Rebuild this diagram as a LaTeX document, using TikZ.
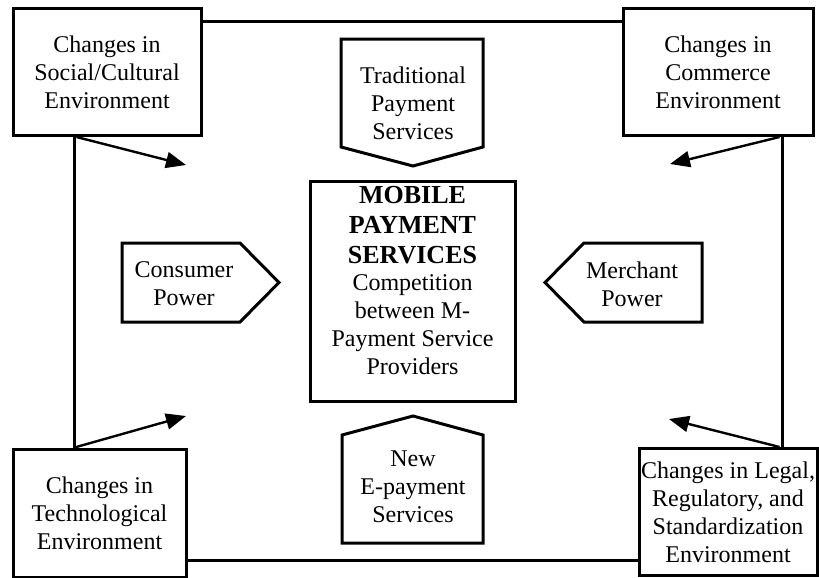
\documentclass[tikz,border=0pt]{standalone}
\usepackage{fontspec}
\setmainfont{Liberation Serif}
\usetikzlibrary{arrows.meta}
\newcommand{\mpshead}[1]{{\fontsize{13}{15}\selectfont\bfseries #1}}

\begin{document}
\begin{tikzpicture}[x=0.5pt, y=-0.5pt,
    every node/.style={font=\fontsize{12}{14}\selectfont, align=center},
    envbox/.style={draw, line width=1.5pt, inner sep=1pt},
    pentline/.style={line width=1.5pt, line join=miter},
    frameline/.style={line width=1.2pt},
    pusharrow/.style={line width=1.2pt, -{Triangle[length=10pt,width=8pt]}}]
    % \draw[help lines] (0, 0) grid[step=50] (819, 578);
    \useasboundingbox (0, 0) rectangle (819, 578);

    \node[envbox, minimum width=94pt, minimum height=63.5pt] (social) at (107, 72) {Changes in\\Social/Cultural\\Environment};
    \node[envbox, minimum width=95pt, minimum height=63.5pt] (commerce) at (718, 72) {Changes in\\Commerce\\Environment};
    \node[envbox, minimum width=86.5pt, minimum height=64pt] (techno) at (99.5, 513) {Changes in\\Technological\\Environment};
    \node[envbox, minimum width=89pt, minimum height=63.5pt] (legal) at (728, 512) {Changes in Legal,\\Regulatory, and\\Standardization\\Environment};

    \draw[frameline] (social.north east) ++(0, 14.5) coordinate (topl) -- (topl -| commerce.west);
    \draw[frameline] (techno.south east) ++(0, -18) coordinate (botl) -- (botl -| legal.west);
    \draw[frameline] (social.south west) ++(63, 0) coordinate (leftl) -- (leftl |- techno.north);
    \draw[frameline] (commerce.south east) ++(-32, 0) coordinate (rightl) -- (rightl |- legal.north);

    \coordinate (socialtip) at (186, 165);
    \coordinate (commercetip) at (670, 164);
    \coordinate (technotip) at (186, 416);
    \coordinate (legaltip) at (669, 419);
    \draw[pusharrow] ([xshift=32.5pt]social.south west) -- (socialtip);
    \draw[pusharrow] ([xshift=-17.5pt]commerce.south east) -- (commercetip);
    \draw[pusharrow] ([xshift=31.5pt]techno.north west) -- (technotip);
    \draw[pusharrow] ([xshift=71pt]legal.north west) -- (legaltip);

    \draw[envbox] (310, 181) rectangle (515, 401);
    \node (mobile) at (412.5, 281) {\mpshead{MOBILE}\\[1pt] \mpshead{PAYMENT}\\[1pt] \mpshead{SERVICES}\\[-0.5pt] Competition\\ between M-\\ Payment Service\\ Providers};

    \draw[pentline] (341, 39) -- (483, 39) -- (483, 147) -- (413, 166) -- (341, 147) -- cycle;
    \node (traditional) at (413, 103) {Traditional\\Payment\\Services};
    \draw[pentline] (342, 435) -- (413, 416) -- (483, 435) -- (483, 543) -- (342, 543) -- cycle;
    \node (newpay) at (413, 487) {New\\E-payment\\Services};
    \draw[pentline] (122, 243) -- (240, 243) -- (279, 282.5) -- (240, 322) -- (122, 322) -- cycle;
    \node (consumer) at (184, 284) {Consumer\\Power};
    \draw[pentline] (584, 243) -- (702, 243) -- (702, 322) -- (584, 322) -- (545, 282.5) -- cycle;
    \node (merchant) at (632, 284) {Merchant\\Power};
\end{tikzpicture}
\end{document}
